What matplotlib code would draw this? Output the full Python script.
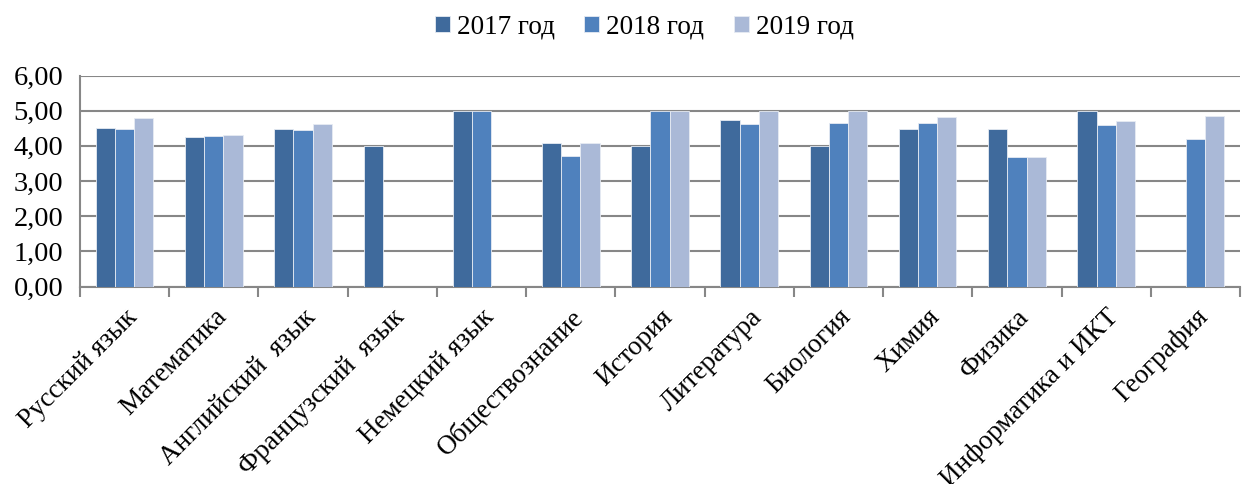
import matplotlib
matplotlib.use("Agg")
import matplotlib.pyplot as plt
import numpy as np

categories = ["Русский язык", "Математика", "Английский  язык", "Французский  язык",
              "Немецкий язык", "Обществознание", "История", "Литература", "Биология",
              "Химия", "Физика", "Информатика и ИКТ", "География"]
series_names = ["2017 год", "2018 год", "2019 год"]
v2017 = [4.50, 4.25, 4.47, 4.00, 5.00, 4.09, 4.00, 4.74, 4.00, 4.49, 4.49, 5.00, np.nan]
v2018 = [4.48, 4.27, 4.45, np.nan, 5.00, 3.70, 5.00, 4.63, 4.66, 4.66, 3.67, 4.60, 4.19]
v2019 = [4.78, 4.30, 4.62, np.nan, np.nan, 4.09, 5.00, 5.00, 5.00, 4.82, 3.67, 4.70, 4.84]
colors = ["#3F6A9C", "#4F81BD", "#AAB9D7"]

plt.rcParams['font.family'] = ['Liberation Serif', 'DejaVu Serif']
FS = 20.5
FSX = 19.5

fig = plt.figure(figsize=(12.51, 4.84), dpi=100)
ax = fig.add_axes([80/1251, 1 - 286.5/484, (1240-80)/1251, (286.5-75.5)/484])

x = np.arange(len(categories))
w = 0.215
for i, (vals, c, name) in enumerate(zip([v2017, v2018, v2019], colors, series_names)):
    ax.bar(x + (i - 1) * w, vals, width=w, color=c, edgecolor="#E6EBF3", linewidth=0.6,
           label=name, zorder=3)

ax.set_xlim(-0.5, len(categories) - 0.5)
ax.set_ylim(0, 6)
ax.set_yticks(np.arange(0, 7, 1))
ax.set_yticklabels([f"{v:.2f}".replace(".", ",") for v in range(7)], fontsize=FS)
ax.yaxis.grid(True, color="#878787", linewidth=1.5, zorder=0)
ax.tick_params(axis='y', length=0, pad=12)

ax.set_xticks(np.arange(-0.5, len(categories), 1), minor=False)
ax.set_xticklabels([])
ax.tick_params(axis='x', which='major', direction='out', length=7, width=1.5, color="#878787")
ax.set_xticks(x, minor=True)
ax.set_xticklabels(categories, minor=True, rotation=45, ha='right', va='top',
                   rotation_mode='anchor', fontsize=FSX)
ax.tick_params(axis='x', which='minor', length=0, pad=13)

for s in ["top", "right"]:
    ax.spines[s].set_visible(False)
for s in ["left", "bottom"]:
    ax.spines[s].set_color("#878787")
    ax.spines[s].set_linewidth(1.5)

leg = fig.legend(loc='upper center', bbox_to_anchor=(0.515, 1.02), ncol=3, frameon=False,
                 fontsize=FSX, handlelength=0.55, handleheight=0.55, handletextpad=0.25,
                 columnspacing=1.1)

fig.savefig("out.png", dpi=100)
